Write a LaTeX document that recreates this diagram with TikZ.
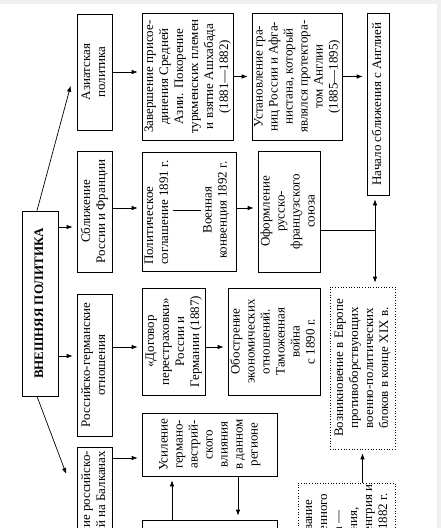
\documentclass[tikz,border=0pt]{standalone}
\usepackage{fontspec}
\setmainfont{Liberation Serif}
\usetikzlibrary{positioning, arrows.meta}
\newcommand{\vt}[1]{\rotatebox{90}{\begin{tabular}{@{}c@{}}#1\end{tabular}}}

\begin{document}
\begin{tikzpicture}[x=1pt,y=-1pt,on grid,>={Latex[length=6pt,width=4.5pt]},
  font=\fontsize{13}{15}\selectfont,
  box/.style={draw,line width=0.7pt,inner sep=0pt},
  dbox/.style={box,dotted}]
\useasboundingbox (0,0) rectangle (441,528);
\fill[gray!12] (0,0) rectangle (441,528);
\fill[white] (0,4) rectangle (437,528);
\clip (0,4) rectangle (437,528);

\node[box,minimum width=36pt,minimum height=185pt] (main) at (40,303.5) {\vt{\bfseries ВНЕШНЯЯ ПОЛИТИКА}};

% first column
\node[box,minimum width=35pt,minimum height=116pt] (az) at (94.5,72) {\vt{Азиатская\\политика}};
\node[box,minimum width=35pt,minimum height=121pt] (sbl) [below=139.5pt of az] {\vt{Сближение\\России и Франции}};
\node[box,minimum width=35pt,minimum height=142pt] (rg) [below=153.5pt of sbl] {\vt{Российско-германские\\отношения}};
\node[box,minimum width=35pt,minimum height=153pt] (balk) [below=158.5pt of rg] {};
\node[anchor=north,inner sep=0pt] (balkt) at ([yshift=-4pt]balk.north) {\rotatebox{90}{\begin{tabular}{@{}r@{}}Ухудшение российско-\\болгарских отношений на Балканах\end{tabular}}};

% asia
\node[box,minimum width=91pt,minimum height=127pt] (zav) at (187.5,76.5) {\vt{Завершение присое-\\динения Средней\\Азии. Покорение\\туркменских племен\\и взятие Ашхабада\\(1881---1882)}};
\node[box,minimum width=90pt,minimum height=127pt] (ust) [right=109.5pt of zav] {\vt{Установление гра-\\ниц России и Афга-\\нистана, который\\являлся протектора-\\том Англии\\(1885---1895)}};
\node[box,minimum width=22pt,minimum height=182pt] (nach) at (378,104) {\vt{Начало сближения с Англией}};

% france
\node[box,minimum width=94pt,minimum height=119pt] (pol) at (189,211.5) {};
\node[anchor=south,inner sep=0pt] (pol1) at (157.5,265) {\rotatebox{90}{\begin{tabular}{@{}l@{}}Политическое\\соглашение 1891 г.\end{tabular}}};
\node[inner sep=0pt] (pol2) at (216,210) {\vt{Военная\\конвенция 1892 г.}};
\node[box,minimum width=62pt,minimum height=121pt] (ofo) [right=100pt of pol] {\vt{Оформление\\русско-\\французского\\союза}};

% germany
\node[box,minimum width=63pt,minimum height=107pt] (dog) at (173.5,341.5) {\vt{«Договор\\перестраховки»\\России и\\Германии (1887)}};
\node[box,minimum width=92pt,minimum height=107pt] (obo) [right=100.5pt of dog] {\vt{Обострение\\экономических\\отношений.\\Таможенная\\война\\с 1890 г.}};

% balkans
\node[box,minimum width=135pt,minimum height=63pt] (usil) at (209.5,444.5) {\vt{Усиление\\германо-\\австрий-\\ского\\влияния\\в данном\\регионе}};
\node[box,minimum width=135pt,minimum height=80pt] (low) at (209.5,560) {};

% blocs
\node[dbox,minimum width=65pt,minimum height=162pt] (voz) at (362.5,368) {\vt{Возникновение в Европе\\противоборствующих\\военно-политических\\блоков в конце XIX в.}};
\node[dbox,minimum width=97pt,minimum height=104pt] (obr) at (346.5,535) {\vt{Образование\\Тройственного\\союза ---\\Германия,\\Австро-Венгрия и\\Италия, 1882 г.}};

\coordinate (a1) at ([xshift=-5pt,yshift=-10pt]az.west);
\coordinate (a2) at ([xshift=-9pt,yshift=-31pt]balk.north west);
\coordinate (a3) at ([yshift=-15.5pt]sbl.west);
\coordinate (a4) at ([yshift=9pt]rg.west);
\coordinate (a5) at ([yshift=-5.5pt]dog.west);
\coordinate (a6) at ([yshift=-13.5pt]usil.west);
\coordinate (a7) at ([yshift=3.5pt]pol.west);
\coordinate (a8) at ([xshift=28.5pt]usil.south);
\coordinate (a9) at ([xshift=-37.5pt]usil.south);
\coordinate (nb) at ([xshift=-3pt]nach.south);
\coordinate (oe) at ([yshift=-18.5pt]ofo.east);

\path[->,line width=0.7pt,shorten >=4pt]
([xshift=-3pt]main.north) edge (a1)
([xshift=-3pt]main.south) edge (a2)
(main.east |- a3) edge (a3)
(main.east |- a4) edge (a4)
(az.east) edge (az.east -| zav.west)
(zav.east) edge (ust.west)
(ust.east) edge (ust.east -| nach.west)
(sbl.east |- a7) edge (a7)
(pol.east |- a7) edge (a7 -| ofo.west)
(rg.east |- a5) edge (a5)
(dog.east |- a5) edge (a5 -| obo.west)
(balk.east |- a6) edge (a6)
(a8) edge (a8 |- low.north)
(a9 |- low.north) edge (a9)
(obr.north -| voz.south) edge (voz.south);

\draw[line width=0.7pt] (pol1.east |- pol2) -- (pol2.west);
\draw[line width=0.7pt] (oe) -- (oe -| nb);
\draw[<->,line width=0.7pt,shorten >=4pt,shorten <=4pt] (nb) -- (nb |- voz.north);
\end{tikzpicture}
\end{document}
